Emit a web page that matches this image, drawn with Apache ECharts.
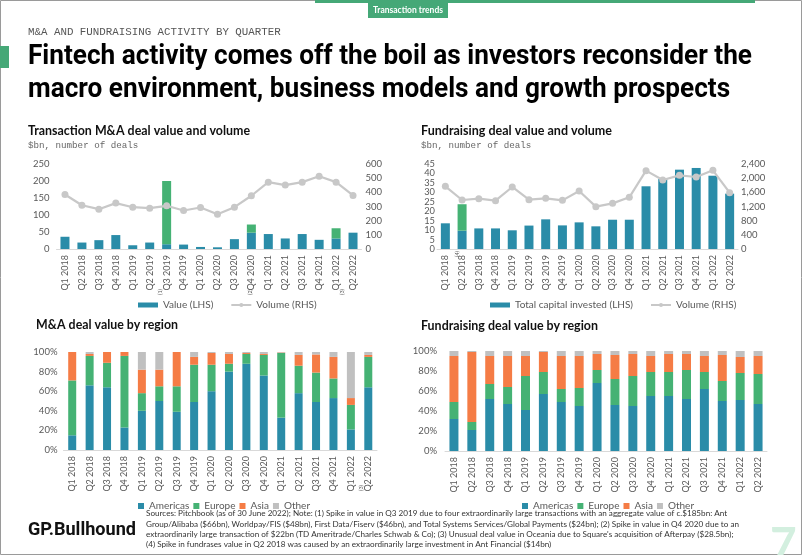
<!DOCTYPE html>
<html><head><meta charset="utf-8">
<script src="https://cdn.jsdelivr.net/npm/echarts@6/dist/echarts.min.js"></script>
<style>html,body{margin:0;padding:0;background:#fff}#c{width:802px;height:555px}</style>
</head><body><div id="c"></div>
<script>
// ---------- DATA ----------
const quarters = ['Q1 2018','Q2 2018','Q3 2018','Q4 2018','Q1 2019','Q2 2019','Q3 2019','Q4 2019','Q1 2020','Q2 2020','Q3 2020','Q4 2020','Q1 2021','Q2 2021','Q3 2021','Q4 2021','Q1 2022','Q2 2022'];

const maValue  = [36,19,26,41,11,19,14,13,6,5,29,48,44,31,44,27,31,48];
const maSpike  = [null,null,null,null,null,null,186,null,null,null,null,24,null,null,null,null,30,null];
const maVolume = [385,309,281,324,295,288,305,272,293,246,295,376,472,451,472,513,472,378];

const fundValue  = [13.6,9.7,10.9,10.9,9.9,12.4,15.7,12.5,14.1,12,15.5,15.5,33.2,37,42,42.9,38.8,29.3];
const fundSpike  = [null,14,null,null,null,null,null,null,null,null,null,null,null,null,null,null,null,null];
const fundVolume = [1769,1384,1421,1365,1751,1393,1431,1374,1638,1195,1289,1459,2212,1948,2080,2033,2221,1591];

const maAmericas = [15,66,64,23,40,50,39,49,60,80,88,76,33,58,49,53,21,64];
const maEurope   = [56,30,25,73,18,15,26,38,27,8,10,21,66,28,30,20,25,31];
const maAsia     = [29,2,11,4,24,17,35,8,12,10,1,1,0.5,11,18.5,22,7,2];
const maOther    = [0,2,0,0,18,18,0,5,1,2,1,2,0.5,3,2.5,5,47,3];

const frAmericas = [32,21,52,47,41,57,49,45,68,46,45,55,55,52,62,50,51,47];
const frEurope   = [17,8,15,17,34,22,13,18,13,26,30,24,24,29,17,20,27,30];
const frAsia     = [46,70,28,31,20,20,33,32,16,24,22,16,18,16,16,26,16,18];
const frOther    = [5,1,5,5,5,1,5,5,3,4,3,5,3,3,5,4,6,5];

const maTicksLeft = [0,250,50], maTicksRight = [0,600,100];
const frTicksLeft = [0,45,5],  frTicksRight = [0,2400,400];

const sourceLines = [
 'Sources: Pitchbook (as of 30 June 2022); Note: (1) Spike in value in Q3 2019 due to four extraordinarily large transactions with an aggregate value of c.$185bn: Ant',
 'Group/Alibaba ($66bn), Worldpay/FIS ($48bn), First Data/Fiserv ($46bn), and Total Systems Services/Global Payments ($24bn); (2) Spike in value in Q4 2020 due to an',
 'extraordinarily large transaction of $22bn (TD Ameritrade/Charles Schwab & Co); (3) Unusual deal value in Oceania due to Square\'s acquisition of Afterpay ($28.5bn);',
 '(4) Spike in fundrases value in Q2 2018 was caused by an extraordinarily large investment in Ant Financial ($14bn)'
];

// ---------- STYLE ----------
const BLUE='#2A8CA8', GREEN='#45B274', ORANGE='#F57C45', GREY='#C0C0C0', LINE='#C8C8C8', TXT='#595959';
const SANS='Lato, "Open Sans", sans-serif';
const MONO='"Liberation Mono", "DejaVu Sans Mono", monospace';

const cv=document.createElement('canvas').getContext('2d');
function fit(text, font, target){ cv.font=font; return target/cv.measureText(text).width; }

const chart = echarts.init(document.getElementById('c'), null, {renderer:'canvas'});

function catAxis(gi){
  return {type:'category', gridIndex:gi, data:quarters, boundaryGap:true,
    axisLine:{lineStyle:{color:'#D9D9D9'}}, axisTick:{show:false},
    axisLabel:{rotate:90, interval:0, fontSize:9, color:TXT, fontFamily:SANS, margin:6}};
}
function lab(extra){ return Object.assign({fontSize:9.5, color:TXT, fontFamily:SANS, margin:6, showMaxLabel:true, showMinLabel:true, hideOverlap:false}, extra); }
function valAxis(gi, t, pos, labelExtra){
  return {type:'value', gridIndex:gi, position:pos, min:t[0], max:t[1], interval:t[2],
    splitLine:{show:false}, axisLine:{show:false}, axisTick:{show:false},
    axisLabel:lab(labelExtra||{})};
}

const legendText={fontSize:10,color:TXT,fontFamily:SANS};

const option = {
  animation:false,
  backgroundColor:'#fff',
  grid:[
    {left:56.5, top:164, width:305, height:85},
    {left:437, top:164, width:301, height:85},
    {left:63.5, top:352, width:313.5, height:98},
    {left:445, top:351, width:322, height:100}
  ],
  xAxis:[catAxis(0),catAxis(1),catAxis(2),catAxis(3)],
  yAxis:[
    valAxis(0,maTicksLeft,'left',{margin:7}),
    valAxis(0,maTicksRight,'right',{margin:4}),
    valAxis(1,frTicksLeft,'left',{margin:2, fontSize:9.3, lineHeight:8, padding:0}),
    valAxis(1,frTicksRight,'right',{margin:3, formatter:v=>v.toLocaleString('en-US')}),
    valAxis(2,[0,100,20],'left',{margin:6, formatter:'{value}%'}),
    valAxis(3,[0,100,20],'left',{margin:8, formatter:'{value}%'})
  ],
  legend:[
    {data:[{name:'Value (LHS)',icon:'rect'},'Volume (RHS)'], left:133, top:295, itemWidth:20, itemHeight:5, itemGap:17, textStyle:legendText},
    {data:[{name:'Total capital invested (LHS)',icon:'rect'},'Volume (RHS)'], left:485, top:295, itemWidth:20, itemHeight:5, itemGap:17, textStyle:legendText},
    {data:['Americas','Europe','Asia','Other'], left:133, top:496, icon:'rect', itemWidth:6, itemHeight:6, itemGap:4, textStyle:legendText},
    {data:['Americas','Europe','Asia','Other'], left:517, top:496, icon:'rect', itemWidth:6, itemHeight:6, itemGap:4, textStyle:legendText}
  ],
  series:[
    {name:'Value (LHS)', type:'bar', xAxisIndex:0, yAxisIndex:0, stack:'ma', data:maValue, barWidth:9, itemStyle:{color:BLUE}},
    {name:'M&A spike', type:'bar', xAxisIndex:0, yAxisIndex:0, stack:'ma', data:maSpike, barWidth:9, itemStyle:{color:GREEN}},
    {name:'Volume (RHS)', type:'line', xAxisIndex:0, yAxisIndex:1, data:maVolume, z:5, color:LINE,
      lineStyle:{color:LINE,width:2.2}, symbol:'circle', symbolSize:7, itemStyle:{color:LINE}},
    {name:'Total capital invested (LHS)', type:'bar', xAxisIndex:1, yAxisIndex:2, stack:'fr', data:fundValue, barWidth:9, itemStyle:{color:BLUE}},
    {name:'Fundraising spike', type:'bar', xAxisIndex:1, yAxisIndex:2, stack:'fr', data:fundSpike, barWidth:9, itemStyle:{color:GREEN}},
    {name:'Volume (RHS)', type:'line', xAxisIndex:1, yAxisIndex:3, data:fundVolume, z:5, color:LINE,
      lineStyle:{color:LINE,width:2.2}, symbol:'circle', symbolSize:7, itemStyle:{color:LINE}},
    {name:'Americas', type:'bar', xAxisIndex:2, yAxisIndex:4, stack:'mr', data:maAmericas, barWidth:8, itemStyle:{color:BLUE}},
    {name:'Europe', type:'bar', xAxisIndex:2, yAxisIndex:4, stack:'mr', data:maEurope, barWidth:8, itemStyle:{color:GREEN}},
    {name:'Asia', type:'bar', xAxisIndex:2, yAxisIndex:4, stack:'mr', data:maAsia, barWidth:8, itemStyle:{color:ORANGE}},
    {name:'Other', type:'bar', xAxisIndex:2, yAxisIndex:4, stack:'mr', data:maOther, barWidth:8, itemStyle:{color:GREY}},
    {name:'Americas', type:'bar', xAxisIndex:3, yAxisIndex:5, stack:'fr2', data:frAmericas, barWidth:9, itemStyle:{color:BLUE}},
    {name:'Europe', type:'bar', xAxisIndex:3, yAxisIndex:5, stack:'fr2', data:frEurope, barWidth:9, itemStyle:{color:GREEN}},
    {name:'Asia', type:'bar', xAxisIndex:3, yAxisIndex:5, stack:'fr2', data:frAsia, barWidth:9, itemStyle:{color:ORANGE}},
    {name:'Other', type:'bar', xAxisIndex:3, yAxisIndex:5, stack:'fr2', data:frOther, barWidth:9, itemStyle:{color:GREY}}
  ]
};
chart.setOption(option);

// ---------- TEXT / DECORATION ----------
function T(text, x, y, font, fill, extra){
  return Object.assign({type:'text', x:x, y:y, silent:true,
    style:{text:text, font:font, fill:fill, textAlign:'left', textVerticalAlign:'middle'}}, extra||{});
}
const titleFont='bold 28px Roboto, sans-serif';
const tScale=fit('Fintech activity comes off the boil as investors reconsider the', titleFont, 724);
const ctFont='bold 13px Lato, sans-serif';
const srcFont='7.6px Lato, sans-serif';
const sScale=fit(sourceLines[1], srcFont, 593);

const g=[
  {type:'rect', shape:{x:0.5,y:0.5,width:801,height:554}, style:{fill:'none',stroke:'#9a9a9a',lineWidth:1}, silent:true},
  {type:'rect', shape:{x:315,y:0,width:440,height:3}, style:{fill:'#45A877'}, silent:true},
  {type:'rect', shape:{x:368,y:0,width:80,height:18}, style:{fill:'#45A877'}, silent:true},
  {type:'text', x:408, y:10, silent:true, style:{text:'Transaction trends',font:'bold 8.5px Lato, sans-serif',fill:'#fff',textAlign:'center',textVerticalAlign:'middle'}},
  {type:'rect', shape:{x:0,y:46,width:9,height:22}, style:{fill:'#45A877'}, silent:true},
  T('M&A AND FUNDRAISING ACTIVITY BY QUARTER', 28, 32, '10.8px '+MONO, '#555'),
  T('Fintech activity comes off the boil as investors reconsider the', 28, 57, titleFont, '#000', {scaleX:tScale}),
  T('macro environment, business models and growth prospects', 28, 90, titleFont, '#000', {scaleX:tScale}),
  T('Transaction M&A deal value and volume', 28, 131, ctFont, '#111', {scaleX:fit('Transaction M&A deal value and volume', ctFont, 222)}),
  T('$bn, number of deals', 28, 146, '9.2px '+MONO, '#666'),
  T('Fundraising deal value and volume', 421, 131, ctFont, '#111', {scaleX:fit('Fundraising deal value and volume', ctFont, 191)}),
  T('$bn, number of deals', 421, 146, '9.2px '+MONO, '#666'),
  T('M&A deal value by region', 36, 325, ctFont, '#111', {scaleX:fit('M&A deal value by region', ctFont, 142)}),
  T('Fundraising deal value by region', 421, 326, ctFont, '#111', {scaleX:fit('Fundraising deal value by region', ctFont, 177)}),
  T('GP.Bullhound', 28, 530, 'bold 19px Roboto, sans-serif', '#111', {scaleX:fit('GP.Bullhound','bold 19px Roboto, sans-serif',108)}),
  T('7', 770, 545, 'bold 46px Lato, sans-serif', '#D3EFDF')
];
sourceLines.forEach((s,i)=>g.push(T(s, 146, 514+i*10.2, srcFont, '#333', {scaleX:sScale})));

// footnote markers beside category labels
function cx(ai, q){ return chart.convertToPixel({xAxisIndex:ai}, q); }
const mk=[[0,'Q3 2019','(1)',-6,292],[0,'Q4 2020','(2)',-1,292],[0,'Q1 2022','(3)',6,292],[1,'Q2 2018','(4)',-5,254],[2,'Q2 2022','(3)',-7,488]];
mk.forEach(m=>{
  g.push({type:'text', x:cx(m[0],m[1])+m[3], y:m[4], rotation:Math.PI/2, silent:true,
    style:{text:m[2], font:'5.5px Lato, sans-serif', fill:TXT, textAlign:'center', textVerticalAlign:'middle'}});
});
chart.setOption({graphic:g});
</script></body></html>
